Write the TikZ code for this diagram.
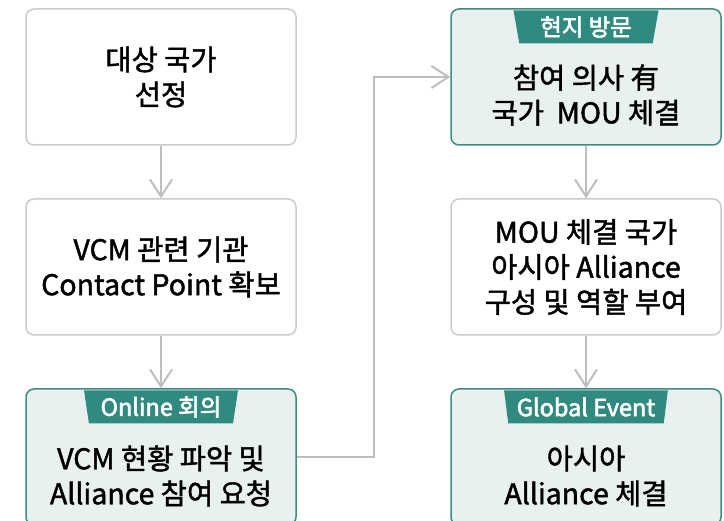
\documentclass[tikz,border=0pt]{standalone}
\usepackage{fontspec}
\setmainfont{Noto Sans CJK KR}
\newfontfamily\medfont{Noto Sans CJK KR}[FakeBold=1.5]
\newfontfamily\tagfont{Noto Sans CJK KR}[FakeBold=2.5]
\usepackage{tikz}
\usetikzlibrary{calc, arrows.meta, positioning, shapes.geometric}

\definecolor{boxgray}{HTML}{CCCCCC}
\definecolor{arrowgray}{HTML}{BEBEBE}
\definecolor{tealline}{HTML}{3C8C82}
\definecolor{tealfill}{HTML}{E8F1F0}
\definecolor{tealtag}{HTML}{318A7F}

\begin{document}
\begin{tikzpicture}[x=1pt, y=-1pt,
        stagebox/.style={rectangle, draw=boxgray, line width=1.5pt, rounded corners=8pt, minimum height=136pt, minimum width=270pt, fill=white, align=center, font=\medfont\fontsize{28.5pt}{35pt}\selectfont},
        greenbox/.style={stagebox, draw=tealline, fill=tealfill},
        label/.style={align=center, font=\medfont\fontsize{28.5pt}{35pt}\selectfont},
        tag/.style={trapezium, trapezium angle=78, trapezium stretches=true, shape border rotate=180, fill=tealtag, text=white, minimum height=33pt, inner ysep=0pt, inner xsep=6pt, font=\tagfont\fontsize{23.5pt}{28pt}\selectfont},
        flow/.style={-{Straight Barb[length=17pt, width=22pt]}, draw=arrowgray, line width=2pt}
    ]
        \clip (0,0) rectangle (724,521);

        % Left column
        \node[stagebox] (select) at (161,77) {대상 국가\\선정};
        \node[stagebox] (contact) at (161,267) {VCM 관련 기관\\Contact Point 확보};
        \node[greenbox] (online) at (161,457) {};
        \node[tag, minimum width=154pt, anchor=north] (online_tag) at (online.north) [yshift=-2pt] {Online 회의};
        \node[label] (online_text) at (online.center) [yshift=-19pt] {VCM 현황 파악 및\\Alliance 참여 요청};

        % Right column
        \node[greenbox] (visit) at (586,77) {};
        \node[tag, minimum width=145pt, anchor=north] (visit_tag) at (visit.north) [yshift=-2pt] {현지 방문};
        \node[label] (visit_text) at (visit.center) [yshift=-18pt] {참여 의사 有\\국가~ MOU 체결};
        \node[stagebox] (alliance) at (586,267) {MOU 체결 국가\\아시아 Alliance\\구성 및 역할 부여};
        \node[greenbox] (event) at (586,457) {};
        \node[tag, minimum width=164pt, anchor=north] (event_tag) at (event.north) [yshift=-2pt] {Global Event};
        \node[label] (event_text) at (event.center) [yshift=-19pt] {아시아\\Alliance 체결};

        % Arrows
        \draw[flow] (select) -- (contact);
        \draw[flow] (contact) -- (online);
        \draw[flow] (online.east) -- ++(77.5,0) |- (visit.west);
        \draw[flow] (visit) -- (alliance);
        \draw[flow] (alliance) -- (event);
    \end{tikzpicture}
\end{document}
